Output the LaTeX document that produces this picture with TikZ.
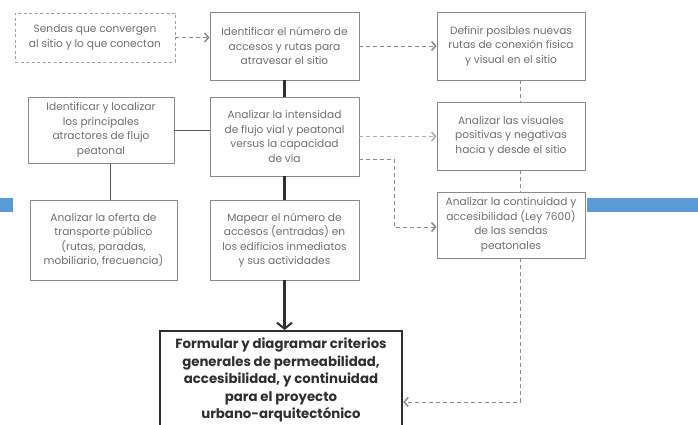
\documentclass[tikz,border=0pt]{standalone}
\usepackage{fontspec}
\setmainfont{Poppins}
\usetikzlibrary{arrows.meta}
\definecolor{txt}{HTML}{707070}
\definecolor{brd}{HTML}{8A8A8A}
\definecolor{dk}{HTML}{303030}
\definecolor{barblue}{HTML}{5B9BD5}
\tikzset{
  boxa/.style={draw=brd, line width=0.9pt, text=txt, align=center, inner sep=1pt,
    font=\fontsize{10.6}{14.5}\selectfont},
  dboxa/.style={boxa, dash pattern=on 3pt off 2.5pt, draw=brd!80},
  finalbox/.style={draw=dk, line width=2.4pt, text=dk, align=center, inner sep=1pt,
    font=\fontsize{13.3}{17.5}\selectfont\bfseries},
  dlink/.style={draw=brd, line width=0.9pt, dash pattern=on 4pt off 3pt},
  solidlink/.style={draw=dk!80, line width=0.8pt},
  thicklink/.style={draw=dk, line width=2.4pt},
  chev/.style={-{Straight Barb[length=4pt,width=9pt,line width=1.5pt]}},
  chevbig/.style={-{Straight Barb[length=6pt,width=15pt,line width=2pt]}}
}
\begin{document}
\begin{tikzpicture}[x=1pt,y=-1pt]
\useasboundingbox[fill=white] (0,0) rectangle (698,425);
% blue bars
\fill[barblue] (0,198) rectangle (13,212);
\fill[barblue] (587,198) rectangle (698,212);

\node[dboxa, minimum width=160pt, minimum height=49pt] (b1) at (95,37.5)
  {Sendas que convergen\\al sitio y lo que conectan};
\node[boxa, minimum width=149pt, minimum height=68pt] (b2) at (284.5,46)
  {Identificar el número de\\accesos y rutas para\\atravesar el sitio};
\node[boxa, minimum width=148pt, minimum height=68pt] (b3) at (511,46)
  {Definir posibles nuevas\\rutas de conexión física\\y visual en el sitio};
\node[boxa, minimum width=146pt, minimum height=66pt] (b4) at (101,130)
  {Identificar y localizar\\los principales\\atractores de flujo\\peatonal};
\node[boxa, minimum width=149pt, minimum height=79pt] (b5) at (284.5,136.5)
  {Analizar la intensidad\\de flujo vial y peatonal\\versus la capacidad\\de vía};
\node[boxa, minimum width=148pt, minimum height=68pt] (b6) at (511,136)
  {Analizar las visuales\\positivas y negativas\\hacia y desde el sitio};
\node[boxa, minimum width=147pt, minimum height=80pt] (b7) at (103.5,240)
  {Analizar la oferta de\\transporte público\\(rutas, paradas,\\mobiliario, frecuencia)};
\node[boxa, minimum width=149pt, minimum height=80pt] (b8) at (284.5,240)
  {Mapear el número de\\accesos (entradas) en\\los edificios inmediatos\\y sus actividades};
\node[boxa, minimum width=148pt, minimum height=66pt] (b9) at (511,225)
  {Analizar la continuidad y\\accesibilidad (Ley 7600)\\de las sendas\\peatonales};
\node[finalbox, minimum width=242pt, minimum height=104pt, anchor=north] (b10) at (281,330) {};
\node[finalbox, draw=none, anchor=north] (t10) at (281,336)
  {Formular y diagramar criterios\\generales de permeabilidad,\\accesibilidad, y continuidad\\para el proyecto\\urbano-arquitectónico};

% coordinates
\coordinate (cx4) at (110,0);
\coordinate (cx3) at (520,0);
\coordinate (k1) at (394,159);
\coordinate (k2) at (394,227);
\coordinate (k3) at (520,402);

% connectors
\draw[dlink, chev] (b1.east) -- (b2.west |- b1.east);
\draw[dlink, chev] (b2.east) -- (b3.west);
\draw[thicklink] (b2.south) -- (b5.north);
\draw[thicklink] (b5.south) -- (b8.north);
\draw[thicklink, chevbig] (b8.south) -- (b10.north -| b8.south);
\draw[solidlink] (b4.east) -- (b5.west |- b4.east);
\draw[solidlink] (b4.south -| cx4) -- (b7.north -| cx4);
\draw[dlink] (b3.south -| cx3) -- (b6.north -| cx3);
\draw[dlink] (b6.south -| cx3) -- (b9.north -| cx3);
\draw[dlink, draw=brd!70, chev] (b5.east) -- (b6.west |- b5.east);
\draw[dlink, chev] (b5.east |- k1) -- (k1) -- (k2) -- (b9.west |- k2);
\draw[dlink, chev] (b9.south -| cx3) -- (k3) -- (b10.east |- k3);
\end{tikzpicture}
\end{document}
